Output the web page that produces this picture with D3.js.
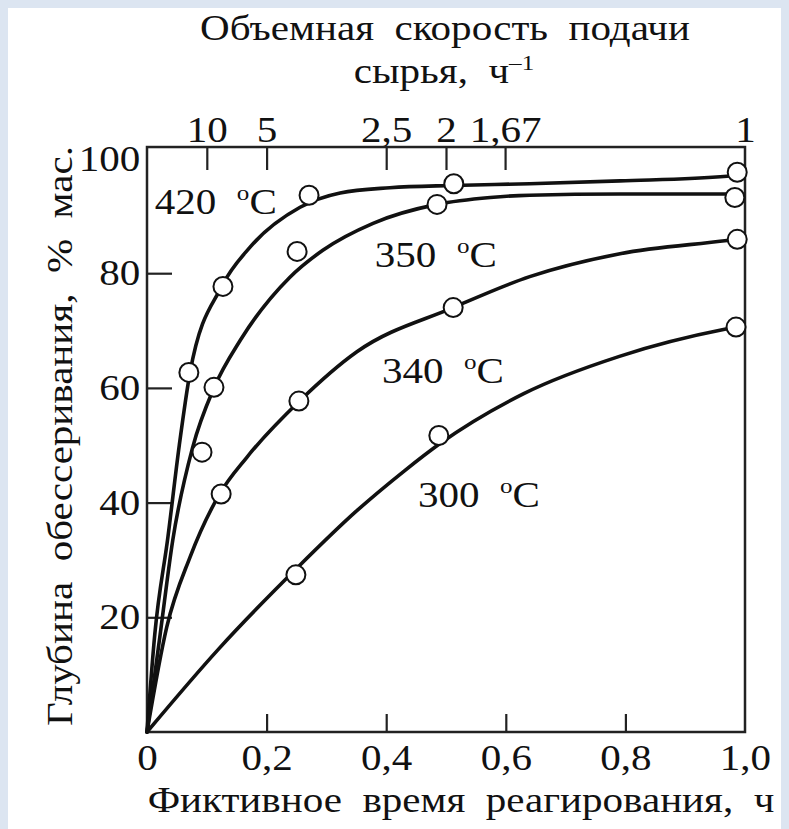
<!DOCTYPE html>
<html>
<head>
<meta charset="utf-8">
<script src="https://cdn.jsdelivr.net/npm/d3@7"></script>
<style>
  html, body { margin: 0; padding: 0; background: #dce5f1; }
  svg { display: block; }
  text { font-family: "Liberation Serif", "Times New Roman", serif; fill: #111; }
</style>
</head>
<body>
<svg id="chart" width="789" height="829"></svg>
<script>
// fictitious reaction time, h  vs  desulfurization depth, % wt

const temps = ["420", "350", "340", "300"]

// experimental points [time, depth]
const pts420 = [[0.070, 62.7], [0.127, 77.7], [0.271, 93.6], [0.513, 95.6], [0.987, 97.6]]
const pts350 = [[0.092, 48.8], [0.112, 60.1], [0.251, 83.8], [0.485, 92.0], [0.983, 93.2]]
const pts340 = [[0.124, 41.5], [0.254, 57.7], [0.512, 74.0], [0.987, 85.9]]
const pts300 = [[0.249, 27.4], [0.488, 51.7], [0.985, 70.6]]

// smoothed curves
const curve420 = [[0, 0], [0.013, 17], [0.035, 34], [0.054, 50], [0.072, 62.7], [0.125, 77.7], [0.172, 84.5],
  [0.256, 91.5], [0.323, 94.0], [0.406, 94.9], [0.512, 95.3], [0.64, 95.6], [0.791, 96.1], [0.97, 96.9], [0.985, 97.2]]
const curve350 = [[0, 0], [0.022, 17], [0.043, 33.4], [0.076, 49.5], [0.112, 60], [0.156, 68.3], [0.239, 79.3],
  [0.294, 84.0], [0.378, 88.7], [0.485, 92.0], [0.574, 93.2], [0.64, 93.6], [0.791, 93.8], [0.97, 93.8], [0.982, 93.7]]
const curve340 = [[0, 0], [0.033, 18.3], [0.072, 30.5], [0.122, 41.6], [0.167, 47.9], [0.256, 57.8], [0.351, 66.3],
  [0.512, 74.0], [0.64, 79.4], [0.791, 83.4], [0.97, 85.7], [0.985, 85.9]]
const curve300 = [[0, 0], [0.12, 14.5], [0.25, 28.5], [0.35, 38.5], [0.43, 45.5], [0.49, 50.3], [0.63, 59.0],
  [0.79, 65.5], [0.97, 70.3], [0.985, 70.6]]

// where the temperature captions sit [time, depth]
const labelPos = [[0.013, 90.4], [0.381, 81.0], [0.393, 60.8], [0.453, 39.2]]

const xTicks = [0, 0.2, 0.4, 0.6, 0.8, 1.0]
const xTickLabels = ["0", "0,2", "0,4", "0,6", "0,8", "1,0"]
const yTicks = [20, 40, 60, 80, 100]
const speedTicks = [10, 5, 2.5, 2, 1.67, 1]
const speedLabels = ["10", "5", "2,5", "2", "1,67", "1"]

const curves = [curve420, curve350, curve340, curve300]
const points = [pts420, pts350, pts340, pts300]

const stretch = 1.14   // the source lettering is a bit wide
const fs = 36

const svg = d3.select("#chart")

// white page with a pale blue border
svg.append("rect")
  .attr("x", 8).attr("y", 8)
  .attr("width", 773).attr("height", 829)
  .attr("fill", "#fff")

const x = d3.scaleLinear().domain([0, 1]).range([147, 745])
const y = d3.scaleLinear().domain([0, 100]).range([732, 158.5])

const styleAxis = g => {
  g.select(".domain").remove()
  g.selectAll(".tick line").attr("stroke", "#222").attr("stroke-width", 2.2)
  g.selectAll(".tick text")
    .attr("fill", "#111")
    .style("font-size", fs + "px")
    .style("font-family", "Liberation Serif, serif")
    .attr("transform", `scale(${stretch},1)`)
}

svg.append("g")
  .attr("transform", `translate(0,${y(0)})`)
  .call(d3.axisBottom(x).tickValues(xTicks).tickFormat((d, i) => xTickLabels[i]).tickSize(-18).tickPadding(12))
  .call(styleAxis)
  .call(g => g.selectAll(".tick line").filter(d => d === 0 || d === 1).remove())

svg.append("g")
  .attr("transform", `translate(${x(0)},0)`)
  .call(d3.axisLeft(y).tickValues(yTicks).tickSize(-25).tickPadding(6))
  .call(styleAxis)
  .call(g => g.selectAll(".tick line").filter(d => d === 100).remove())

svg.append("g")
  .attr("transform", `translate(0,${y(102)})`)
  .call(d3.axisTop(x).tickValues(speedTicks.map(s => 1 / s)).tickFormat((d, i) => speedLabels[i]).tickSize(-23).tickPadding(5))
  .call(styleAxis)
  .call(g => g.selectAll(".tick line").filter(d => d === 1).remove())

// frame
svg.append("rect")
  .attr("x", x(0)).attr("y", y(102))
  .attr("width", x(1) - x(0)).attr("height", y(0) - y(102))
  .attr("fill", "none").attr("stroke", "#222").attr("stroke-width", 2.5)

const line = d3.line()
  .x(d => x(d[0]))
  .y(d => y(d[1]))
  .curve(d3.curveMonotoneX)

svg.append("g").selectAll("path")
  .data(curves)
  .join("path")
  .attr("d", line)
  .attr("fill", "none")
  .attr("stroke", "#111")
  .attr("stroke-width", 3.6)
  .attr("stroke-linecap", "round")

svg.append("g").selectAll("circle")
  .data(points.flat())
  .join("circle")
  .attr("cx", d => x(d[0]))
  .attr("cy", d => y(d[1]))
  .attr("r", 9.5)
  .attr("fill", "#fff")
  .attr("stroke", "#111")
  .attr("stroke-width", 2)

// temperature captions
const cap = svg.append("g").selectAll("text")
  .data(temps)
  .join("text")
  .attr("transform", (d, i) => `translate(${x(labelPos[i][0])},${y(labelPos[i][1])}) scale(${stretch},1)`)
  .style("font-size", fs + "px")
  .attr("xml:space", "preserve")
cap.append("tspan").text(d => d + "  ")
cap.append("tspan").text("o").style("font-size", "22px").attr("dy", -14)
cap.append("tspan").text("C").attr("dy", 14)

// top title
svg.append("text")
  .attr("transform", `translate(445,40) scale(${stretch},1)`)
  .attr("text-anchor", "middle")
  .attr("xml:space", "preserve")
  .style("font-size", fs + "px")
  .text("Объемная  скорость  подачи")

const t2 = svg.append("text")
  .attr("transform", `translate(444,83) scale(${stretch},1)`)
  .attr("text-anchor", "middle")
  .attr("xml:space", "preserve")
  .style("font-size", fs + "px")
t2.append("tspan").text("сырья,  ч")
t2.append("tspan").text("\u20131").style("font-size", "22px").attr("dy", -13)

// axis titles
svg.append("text")
  .attr("transform", `translate(461,812) scale(${stretch},1)`)
  .attr("text-anchor", "middle")
  .attr("xml:space", "preserve")
  .style("font-size", fs + "px")
  .text("Фиктивное  время  реагирования,  ч")

svg.append("text")
  .attr("transform", `translate(72,436) rotate(-90) scale(${stretch},1)`)
  .attr("text-anchor", "middle")
  .attr("xml:space", "preserve")
  .style("font-size", fs + "px")
  .text("Глубина  обессеривания,  %  мас.")
</script>
</body>
</html>
